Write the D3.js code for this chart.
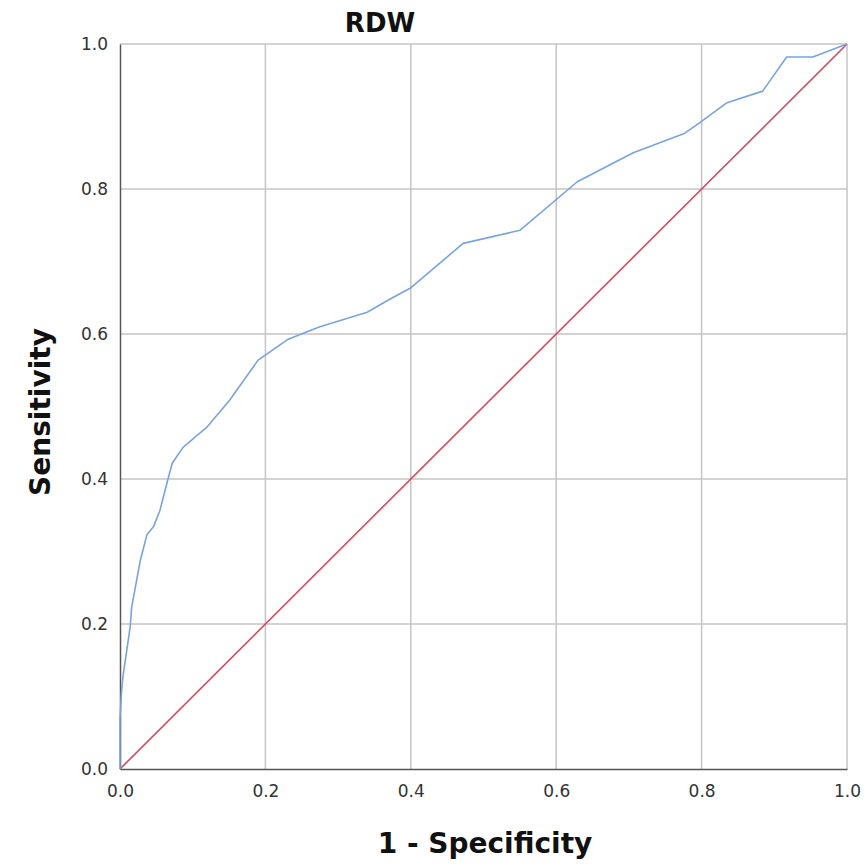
<!DOCTYPE html>
<html>
<head>
<meta charset="utf-8">
<script src="https://cdn.jsdelivr.net/npm/d3@7"></script>
<style>
    body { margin: 0; background: #fff; }
    .tick text { font-family: "DejaVu Sans", sans-serif; font-size: 17px; fill: #333; }
    .axistitle { font-family: "DejaVu Sans", sans-serif; font-weight: bold; fill: #111; }
</style>
</head>
<body>
<script>
// ROC curve for RDW

const fpr = [0, 0, 0.002, 0.004, 0.014, 0.016, 0.028, 0.037, 0.046, 0.055, 0.066, 0.072, 0.087, 0.12,
    0.151, 0.19, 0.23, 0.252, 0.275, 0.34, 0.371, 0.399, 0.472, 0.55, 0.629, 0.706, 0.777, 0.798,
    0.835, 0.884, 0.917, 0.953, 1];
const tpr = [0, 0.07, 0.105, 0.127, 0.196, 0.223, 0.288, 0.323, 0.334, 0.357, 0.40, 0.422, 0.444, 0.472,
    0.509, 0.564, 0.592, 0.601, 0.61, 0.63, 0.648, 0.663, 0.725, 0.743, 0.81, 0.85, 0.877, 0.892,
    0.919, 0.935, 0.982, 0.982, 1];
const refLine = [0, 1];
const ticks = [0, 0.2, 0.4, 0.6, 0.8, 1.0];

const width = 864, height = 866;
const margin = { 'top': 44, 'bottom': 97, 'left': 120, 'right': 17 };

const svg = d3.select('body').append('svg')
    .attr('width', width)
    .attr('height', height);

const xScale = d3.scaleLinear().domain([0, 1]).range([margin.left, width - margin.right]);
const yScale = d3.scaleLinear().domain([0, 1]).range([height - margin.bottom, margin.top]);

// gridlines
svg.append('g')
    .selectAll('line.vgrid')
    .data(ticks.slice(1))
    .enter()
    .append('line')
    .attr('x1', d => xScale(d)).attr('x2', d => xScale(d))
    .attr('y1', yScale(0)).attr('y2', yScale(1))
    .attr('stroke', '#c4c4c4').attr('stroke-width', 1.5);

svg.append('g')
    .selectAll('line.hgrid')
    .data(ticks.slice(1))
    .enter()
    .append('line')
    .attr('x1', xScale(0)).attr('x2', xScale(1))
    .attr('y1', d => yScale(d)).attr('y2', d => yScale(d))
    .attr('stroke', '#c4c4c4').attr('stroke-width', 1.5);

// axes
svg.append('g')
    .attr('transform', 'translate(0,' + yScale(0) + ')')
    .call(d3.axisBottom(xScale).tickValues(ticks).tickFormat(d3.format('.1f')).tickSize(0).tickPadding(16))
    .call(g => g.select('.domain').attr('stroke', '#555').attr('stroke-width', 1.5));

svg.append('g')
    .attr('transform', 'translate(' + xScale(0) + ',0)')
    .call(d3.axisLeft(yScale).tickValues(ticks).tickFormat(d3.format('.1f')).tickSize(0).tickPadding(12))
    .call(g => g.select('.domain').attr('stroke', '#555').attr('stroke-width', 1.5));

// reference diagonal
svg.append('line')
    .attr('x1', xScale(refLine[0])).attr('y1', yScale(refLine[0]))
    .attr('x2', xScale(refLine[1])).attr('y2', yScale(refLine[1]))
    .attr('stroke', '#d64a5e').attr('stroke-width', 1.6);

// roc curve
const line = d3.line()
    .x((d, i) => xScale(fpr[i]))
    .y(d => yScale(d));

svg.append('path')
    .datum(tpr)
    .attr('fill', 'none')
    .attr('stroke', '#7aa3dc')
    .attr('stroke-width', 1.6)
    .attr('stroke-linejoin', 'round')
    .attr('d', line);

// titles
svg.append('text')
    .classed('axistitle', true)
    .attr('x', 380).attr('y', 32)
    .attr('text-anchor', 'middle')
    .attr('font-size', 26)
    .text('RDW');

svg.append('text')
    .classed('axistitle', true)
    .attr('x', 485).attr('y', 853)
    .attr('text-anchor', 'middle')
    .attr('font-size', 28)
    .text('1 - Specificity');

svg.append('text')
    .classed('axistitle', true)
    .attr('transform', 'translate(50,412) rotate(-90)')
    .attr('text-anchor', 'middle')
    .attr('font-size', 28)
    .text('Sensitivity');
</script>
</body>
</html>
